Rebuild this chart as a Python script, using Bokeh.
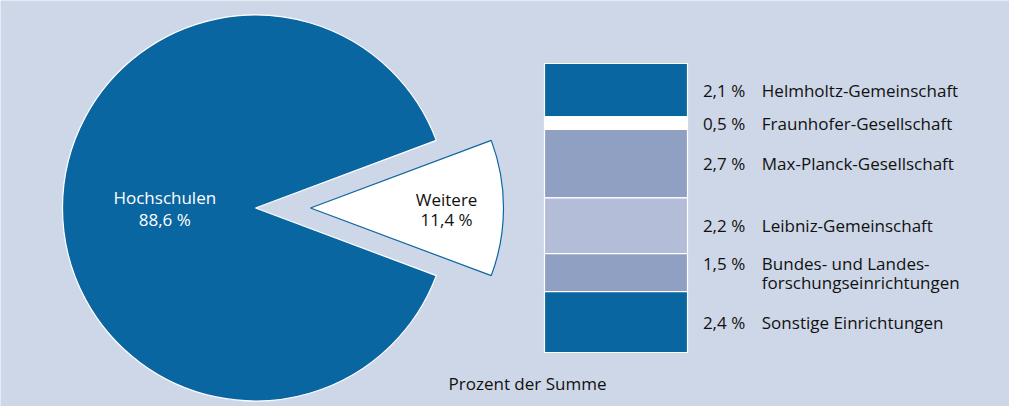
import math
from bokeh.plotting import figure
from bokeh.models import Range1d, ColumnDataSource
from bokeh.core.properties import value
from bokeh.embed import file_html
from bokeh.resources import INLINE

# ---------------- data ----------------
pie_labels = ["Hochschulen", "Weitere"]
pie_shares = [88.6, 11.4]

inst_names = [
    "Helmholtz-Gemeinschaft",
    "Fraunhofer-Gesellschaft",
    "Max-Planck-Gesellschaft",
    "Leibniz-Gemeinschaft",
    "Bundes- und Landes-\nforschungseinrichtungen",
    "Sonstige Einrichtungen",
]
inst_shares = [2.1, 0.5, 2.7, 2.2, 1.5, 2.4]
axis_caption = "Prozent der Summe"

# ---------------- styles ----------------
BG = "#CED7E7"
BLUE = "#0A66A0"
MID = "#8FA0C3"
LIGHT = "#B4BDD8"
TXT = "#111111"
FONT = "Open Sans"
seg_colors = [BLUE, "#FFFFFF", MID, LIGHT, MID, BLUE]

def fmt(v):
    return f"{v:.1f}".replace(".", ",") + " %"

W, H = 1009, 406
p = figure(width=W, height=H, output_backend="svg", toolbar_location=None,
           x_range=Range1d(0, W), y_range=Range1d(0, H),
           x_axis_location=None, y_axis_location=None, min_border=0)
p.background_fill_color = BG
p.border_fill_color = BG
p.outline_line_color = None
p.grid.visible = False

# ---------------- pie ----------------
cx, cy, R, explode = 255, 198.5, 193, 55
total = sum(pie_shares)
w_ang = 360.0 * pie_shares[1] / total
starts = [math.radians(w_ang / 2), math.radians(-w_ang / 2)]
ends = [math.radians(360 - w_ang / 2), math.radians(w_ang / 2)]
mids = [180.0, 0.0]
offs = [0, explode]
pcx = [cx + o * math.cos(math.radians(m)) for o, m in zip(offs, mids)]
pcy = [cy + o * math.sin(math.radians(m)) for o, m in zip(offs, mids)]
pie_src = ColumnDataSource(dict(x=pcx, y=pcy, s=starts, e=ends,
                                fill=[BLUE, "#FFFFFF"], line=["#FFFFFF", BLUE]))
p.wedge(x="x", y="y", radius=R, start_angle="s", end_angle="e",
        fill_color="fill", line_color="line", line_width=1.2, source=pie_src)

lab_frac = [0.47, 0.705]
lx = [px + f * R * math.cos(math.radians(m)) for px, f, m in zip(pcx, lab_frac, mids)]
ly = [py + f * R * math.sin(math.radians(m)) for py, f, m in zip(pcy, lab_frac, mids)]
pie_txt_col = ["#FFFFFF", TXT]
p.text(x=lx, y=ly, text=pie_labels, y_offset=[-10.5, -9],
       text_color=pie_txt_col, text_font=value(FONT), text_font_size="17px",
       text_align="center", text_baseline="middle")
p.text(x=lx, y=ly, text=[fmt(v) for v in pie_shares], y_offset=[11.5, 11],
       text_color=pie_txt_col, text_font=value(FONT), text_font_size="17px",
       text_align="center", text_baseline="middle")

# ---------------- stacked bar ----------------
bar_bottom_px, bar_top_px = 54, 343
scale = (bar_top_px - bar_bottom_px) / sum(inst_shares)
p.extra_y_ranges = {"pct": Range1d(-bar_bottom_px / scale, (H - bar_bottom_px) / scale)}

tops, bottoms, acc = [], [], 0.0
for v in reversed(inst_shares):
    bottoms.append(acc)
    acc += v
    tops.append(acc)
tops = tops[::-1]
bottoms = bottoms[::-1]
centers = [(t + b) / 2 for t, b in zip(tops, bottoms)]

bar_src = ColumnDataSource(dict(x=[615.5] * len(inst_shares), top=tops, bottom=bottoms,
                                color=seg_colors))
p.vbar(x="x", width=143, top="top", bottom="bottom", fill_color="color",
       line_color="#FFFFFF", line_width=1.2, y_range_name="pct", source=bar_src)

# y_offset is in screen pixels, positive = downwards
LINE = 19
name_y, name_txt, name_off, pct_off = [], [], [], []
for n, c in zip(inst_names, centers):
    lines = n.split("\n")
    k = len(lines)
    first = -(k - 1) * LINE / 2
    pct_off.append(first)
    for i, ln in enumerate(lines):
        name_y.append(c)
        name_txt.append(ln)
        name_off.append(first + i * LINE)

p.text(x=[744.7] * len(inst_shares), y=centers, text=[fmt(v) for v in inst_shares],
       y_offset=pct_off,
       y_range_name="pct", text_color=TXT, text_font=value(FONT), text_font_size="17px",
       text_align="right", text_baseline="middle")
p.text(x=[761.3] * len(name_txt), y=name_y, text=name_txt, y_offset=name_off,
       y_range_name="pct", text_color=TXT, text_font=value(FONT), text_font_size="17px",
       text_align="left", text_baseline="middle")

p.text(x=[527], y=[23], text=[axis_caption], text_color=TXT, text_font=value(FONT),
       text_font_size="17px", text_align="center", text_baseline="middle")

open("out.html", "w").write(file_html(p, INLINE))
